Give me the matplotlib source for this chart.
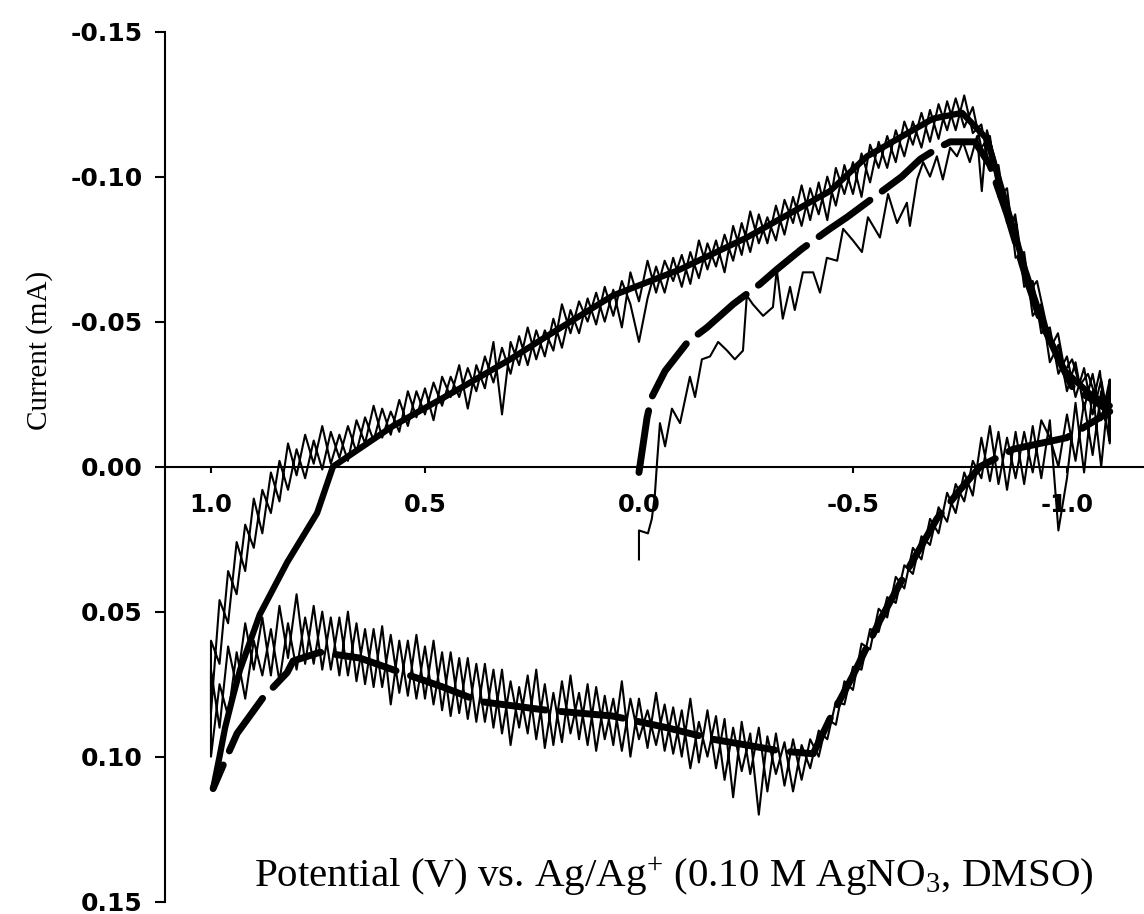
import matplotlib.pyplot as plt

# sweep potentials (V vs Ag/Ag+)
potential_up = [
    1.00, 0.98, 0.96, 0.94, 0.92, 0.90, 0.88, 0.86, 0.84, 0.82,
    0.80, 0.78, 0.76, 0.74, 0.72, 0.70, 0.68, 0.66, 0.64, 0.62,
    0.60, 0.58, 0.56, 0.54, 0.52, 0.50, 0.48, 0.46, 0.44, 0.42,
    0.40, 0.38, 0.36, 0.34, 0.32, 0.30, 0.28, 0.26, 0.24, 0.22,
    0.20, 0.18, 0.16, 0.14, 0.12, 0.10, 0.08, 0.06, 0.04, 0.02,
    0.00, -0.02, -0.04, -0.06, -0.08, -0.10, -0.12, -0.14, -0.16, -0.18,
    -0.20, -0.22, -0.24, -0.26, -0.28, -0.30, -0.32, -0.34, -0.36, -0.38,
    -0.40, -0.42, -0.44, -0.46, -0.48, -0.50, -0.52, -0.54, -0.56, -0.58,
    -0.60, -0.62, -0.64, -0.66, -0.68, -0.70, -0.72, -0.74, -0.76, -0.78,
    -0.80, -0.82, -0.84, -0.86, -0.88, -0.90, -0.92, -0.94, -0.96, -0.98,
    -1.00, -1.02, -1.04, -1.06, -1.08, -1.10,
]
potential_down = potential_up[::-1]

# noisy scans, current in mA
first_v = [0.000, 0.000, -0.021, -0.030, -0.037, -0.042, -0.049, -0.061, -0.077, -0.096,
           -0.119, -0.131, -0.147, -0.166, -0.185, -0.206, -0.224, -0.243, -0.252, -0.266,
           -0.290, -0.313, -0.322, -0.336, -0.353, -0.364, -0.383, -0.407, -0.423, -0.439,
           -0.463, -0.477, -0.500, -0.521, -0.535, -0.563, -0.582, -0.603, -0.626, -0.633,
           -0.650, -0.664, -0.680, -0.696, -0.710, -0.727, -0.743, -0.757, -0.773, -0.790,
           -0.801, -0.813, -0.832, -0.848, -0.867, -0.879, -0.895, -0.914, -0.930, -0.949,
           -0.965, -0.979, -0.995, -1.012, -1.030, -1.049, -1.065, -1.077, -1.089, -1.096,
           -1.100]
first_i = [0.032, 0.022, 0.023, 0.018, 0.010, -0.001, -0.015, -0.007, -0.020, -0.015,
           -0.031, -0.024, -0.037, -0.038, -0.043, -0.040, -0.037, -0.040, -0.059, -0.056,
           -0.052, -0.055, -0.068, -0.051, -0.062, -0.054, -0.067, -0.067, -0.060, -0.072,
           -0.071, -0.082, -0.078, -0.074, -0.086, -0.079, -0.094, -0.084, -0.091, -0.083,
           -0.099, -0.105, -0.100, -0.107, -0.099, -0.110, -0.107, -0.112, -0.105, -0.114,
           -0.095, -0.116, -0.106, -0.094, -0.082, -0.087, -0.071, -0.061, -0.064, -0.051,
           -0.042, -0.046, -0.033, -0.037, -0.028, -0.032, -0.025, -0.033, -0.016, -0.026,
           -0.009]

back1_i = [
    -0.030, 0.000, -0.026, 0.002, -0.022, 0.004, 0.022, -0.016, 0.004, -0.014,
    0.006, -0.012, 0.008, -0.012, 0.005, -0.010, 0.010, 0.002, 0.016, 0.009,
    0.023, 0.018, 0.032, 0.028, 0.042, 0.038, 0.052, 0.049, 0.063, 0.061,
    0.077, 0.074, 0.089, 0.087, 0.100, 0.094, 0.108, 0.094, 0.110, 0.092,
    0.112, 0.090, 0.106, 0.088, 0.114, 0.087, 0.104, 0.084, 0.102, 0.080,
    0.100, 0.083, 0.098, 0.078, 0.097, 0.080, 0.100, 0.074, 0.096, 0.079,
    0.098, 0.075, 0.094, 0.072, 0.095, 0.078, 0.097, 0.070, 0.092, 0.076,
    0.096, 0.070, 0.090, 0.068, 0.088, 0.066, 0.085, 0.064, 0.084, 0.060,
    0.080, 0.058, 0.079, 0.060, 0.082, 0.055, 0.076, 0.056, 0.074, 0.050,
    0.072, 0.052, 0.070, 0.048, 0.068, 0.044, 0.066, 0.048, 0.072, 0.052,
    0.070, 0.054, 0.076, 0.062, 0.090, 0.070,
]
fwd1_i = [
    0.085, 0.046, 0.054, 0.026, 0.036, 0.011, 0.023, 0.002, 0.012, -0.008,
    0.003, -0.011, -0.001, -0.014, -0.001, -0.011, -0.002, -0.016, -0.008, -0.021,
    -0.010, -0.019, -0.012, -0.026, -0.017, -0.027, -0.016, -0.031, -0.024, -0.035,
    -0.020, -0.035, -0.027, -0.043, -0.018, -0.043, -0.035, -0.048, -0.037, -0.047,
    -0.040, -0.056, -0.046, -0.057, -0.050, -0.060, -0.050, -0.061, -0.048, -0.067,
    -0.057, -0.071, -0.060, -0.071, -0.064, -0.073, -0.063, -0.078, -0.068, -0.078,
    -0.067, -0.083, -0.073, -0.088, -0.077, -0.086, -0.078, -0.092, -0.084, -0.097,
    -0.085, -0.098, -0.085, -0.103, -0.094, -0.105, -0.093, -0.111, -0.103, -0.114,
    -0.105, -0.119, -0.111, -0.122, -0.112, -0.125, -0.116, -0.127, -0.117, -0.124,
    -0.110, -0.114, -0.093, -0.096, -0.072, -0.074, -0.052, -0.056, -0.036, -0.042,
    -0.026, -0.036, -0.020, -0.032, -0.016, -0.030,
]
back2_i = [
    -0.008, -0.026, -0.004, -0.022, -0.002, -0.018, 0.000, -0.010, -0.016, 0.002,
    -0.012, 0.004, -0.010, 0.006, -0.014, 0.004, -0.002, 0.012, 0.006, 0.019,
    0.014, 0.027, 0.024, 0.037, 0.034, 0.047, 0.045, 0.057, 0.056, 0.070,
    0.069, 0.082, 0.081, 0.094, 0.091, 0.104, 0.096, 0.112, 0.095, 0.106,
    0.093, 0.120, 0.092, 0.105, 0.090, 0.108, 0.086, 0.100, 0.088, 0.104,
    0.084, 0.099, 0.082, 0.096, 0.084, 0.094, 0.080, 0.098, 0.080, 0.094,
    0.076, 0.096, 0.078, 0.092, 0.074, 0.096, 0.075, 0.094, 0.072, 0.090,
    0.074, 0.092, 0.070, 0.088, 0.068, 0.087, 0.066, 0.086, 0.064, 0.082,
    0.062, 0.080, 0.060, 0.078, 0.058, 0.076, 0.056, 0.075, 0.054, 0.072,
    0.052, 0.070, 0.050, 0.068, 0.052, 0.070, 0.054, 0.074, 0.056, 0.072,
    0.060, 0.080, 0.064, 0.086, 0.075, 0.100,
]
fwd2_i = [
    0.060, 0.068, 0.036, 0.044, 0.020, 0.028, 0.008, 0.016, -0.002, 0.008,
    -0.006, 0.004, -0.009, 0.001, -0.012, -0.003, -0.014, -0.005, -0.017, -0.009,
    -0.020, -0.011, -0.023, -0.014, -0.026, -0.018, -0.029, -0.021, -0.031, -0.024,
    -0.034, -0.026, -0.038, -0.029, -0.041, -0.032, -0.045, -0.035, -0.047, -0.038,
    -0.051, -0.041, -0.054, -0.046, -0.058, -0.049, -0.062, -0.052, -0.064, -0.056,
    -0.043, -0.058, -0.069, -0.060, -0.072, -0.062, -0.074, -0.065, -0.077, -0.069,
    -0.080, -0.071, -0.084, -0.074, -0.087, -0.077, -0.090, -0.080, -0.093, -0.083,
    -0.096, -0.087, -0.100, -0.090, -0.104, -0.094, -0.108, -0.098, -0.112, -0.103,
    -0.116, -0.107, -0.119, -0.110, -0.123, -0.113, -0.126, -0.116, -0.128, -0.115,
    -0.118, -0.102, -0.104, -0.084, -0.085, -0.062, -0.064, -0.046, -0.048, -0.032,
    -0.038, -0.024, -0.034, -0.018, -0.030, -0.014,
]

# smooth (thick) curve, first cycle dashed and second cycle solid
thick1_v = [0.000, -0.019, -0.030, -0.061, -0.114, -0.159, -0.220, -0.283, -0.322, -0.380,
            -0.446, -0.486, -0.550, -0.614, -0.657, -0.700, -0.727, -0.785, -0.820, -0.860,
            -0.907, -0.937, -0.984, -1.014, -1.061, -1.100, -1.000, -0.874, -0.797, -0.750,
            -0.696, -0.626, -0.563, -0.500, -0.446, -0.407, -0.329, -0.173, -0.065, 0.061,
            0.215, 0.371, 0.458, 0.575, 0.652, 0.745, 0.808, 0.822, 0.880, 0.939,
            0.960, 0.995]
thick1_i = [0.002, -0.017, -0.024, -0.033, -0.043, -0.048, -0.056, -0.063, -0.068, -0.075,
            -0.082, -0.086, -0.093, -0.100, -0.106, -0.110, -0.112, -0.112, -0.104, -0.087,
            -0.064, -0.051, -0.036, -0.027, -0.023, -0.019, -0.010, -0.006, 0.000, 0.008,
            0.018, 0.036, 0.053, 0.072, 0.087, 0.099, 0.098, 0.094, 0.090, 0.086,
            0.084, 0.081, 0.076, 0.070, 0.066, 0.064, 0.067, 0.071, 0.080, 0.092,
            0.099, 0.111]
thick2_v = [0.995, 0.980, 0.967, 0.950, 0.932, 0.886, 0.822, 0.752, 0.715, 0.575,
            0.418, 0.301, 0.215, 0.061, -0.096, -0.252, -0.446, -0.533, -0.687, -0.755,
            -0.813, -0.855, -0.902, -0.949, -0.995, -1.054, -1.100]
thick2_i = [0.111, 0.100, 0.090, 0.080, 0.070, 0.051, 0.033, 0.016, 0.000, -0.014,
            -0.027, -0.037, -0.045, -0.059, -0.068, -0.079, -0.095, -0.107, -0.120, -0.122,
            -0.113, -0.092, -0.068, -0.047, -0.033, -0.025, -0.021]

xtick_vals = [1.0, 0.5, 0.0, -0.5, -1.0]
xtick_labels = ["1.0", "0.5", "0.0", "-0.5", "-1.0"]
ytick_vals = [-0.15, -0.10, -0.05, 0.00, 0.05, 0.10, 0.15]
ytick_labels = ["-0.15", "-0.10", "-0.05", "0.00", "0.05", "0.10", "0.15"]

plt.rcParams['font.family'] = ['DejaVu Sans']
plt.rcParams['mathtext.fontset'] = 'custom'
plt.rcParams['mathtext.rm'] = 'Liberation Serif'
plt.rcParams['mathtext.it'] = 'Liberation Serif'

fig = plt.figure(figsize=(11.44, 9.14), dpi=100)
ax = fig.add_axes([0.1442, 0.0135, 0.8558, 0.9519])

thin_v = first_v + potential_down + potential_up + potential_down + potential_up
thin_i = first_i + back1_i + fwd1_i + back2_i + fwd2_i
ax.plot(thin_v, thin_i, color='black', lw=1.5, solid_joinstyle='round')

ax.plot(thick1_v, thick1_i, color='black', lw=5, dashes=(9, 2.2),
        dash_capstyle='round', solid_capstyle='round')
ax.plot(thick2_v, thick2_i, color='black', lw=4.5, solid_capstyle='round')

ax.set_xlim(1.1075, -1.18)
ax.set_ylim(0.15, -0.15)

ax.spines['top'].set_visible(False)
ax.spines['right'].set_visible(False)
ax.spines['bottom'].set_position(('data', 0))
ax.spines['bottom'].set_linewidth(1.5)
ax.spines['left'].set_linewidth(1.5)

ax.set_xticks(xtick_vals)
ax.set_xticklabels(xtick_labels)
ax.set_yticks(ytick_vals)
ax.set_yticklabels(ytick_labels)
ax.tick_params(axis='x', direction='out', length=4, width=1.5, pad=15, labelsize=17.5)
ax.tick_params(axis='y', direction='out', length=7, width=1.5, pad=9, labelsize=18)
for lab in ax.get_xticklabels() + ax.get_yticklabels():
    lab.set_fontweight('bold')

fig.text(674 / 1144, 1 - 877 / 914,
         r'Potential (V) vs. Ag/Ag$^{+}$ (0.10 M AgNO$_{3}$, DMSO)',
         ha='center', va='center', fontsize=29.5, family='Liberation Serif')
fig.text(40 / 1144, 1 - 350 / 914, 'Current (mA)', rotation=90,
         ha='center', va='center', fontsize=21, family='Liberation Serif')

fig.savefig('out.png', dpi=100)
